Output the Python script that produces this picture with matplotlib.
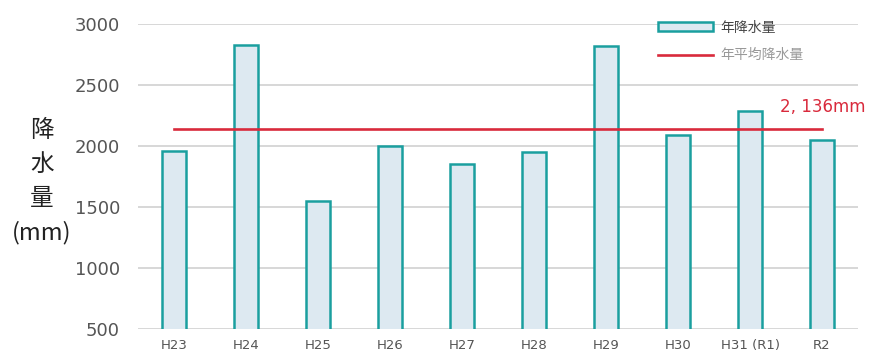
import matplotlib.pyplot as plt
from matplotlib.patches import Patch
from matplotlib.lines import Line2D

# --- data ---
years = ["H23", "H24", "H25", "H26", "H27", "H28", "H29", "H30", "H31 (R1)", "R2"]
rain = [1960, 2830, 1550, 2000, 1850, 1950, 2820, 2090, 2290, 2050]
mean_rain = 2136
mean_label = "2, 136mm"

plt.rcParams['font.family'] = ['Noto Sans CJK JP', 'DejaVu Sans']

fig = plt.figure(figsize=(8.72, 3.54), dpi=100)
ax = fig.add_axes([138 / 872, 1 - 329 / 354, 720 / 872, 305 / 354])

x = list(range(len(years)))
ax.bar(x, rain, width=0.33, bottom=0, color="#dde9f1", edgecolor="#1a9f9f",
       linewidth=1.8, zorder=3)
ax.plot([x[0], x[-1]], [mean_rain, mean_rain], color="#d92a3c", lw=1.9, zorder=4)
ax.text(x[-1] + 0.6, mean_rain + 110, mean_label, color="#d92a3c", fontsize=12,
        ha="right", va="bottom", family="DejaVu Sans")

ax.set_ylim(500, 3000)
ax.set_xlim(-0.5, 9.5)
ax.set_yticks([500, 1000, 1500, 2000, 2500, 3000])
ax.set_xticks(x)
ax.set_xticklabels(years)
ax.grid(axis="y", color="#d4d4d4", lw=1.3, zorder=0)
for s in ax.spines.values():
    s.set_visible(False)
ax.tick_params(axis="both", length=0, colors="#555555")
ax.tick_params(axis="y", pad=13, labelsize=13)
ax.tick_params(axis="x", pad=7, labelsize=9.5)
for lab in ax.get_yticklabels() + ax.get_xticklabels():
    lab.set_family("DejaVu Sans")

fig.text(42 / 872, 1 - 182 / 354, "降\n水\n量\n(mm)", ha="center", va="center",
         fontsize=17, linespacing=1.6, color="#222222")

handles = [Patch(facecolor="#dde9f1", edgecolor="#1a9f9f", linewidth=1.8),
           Line2D([0], [0], color="#d92a3c", lw=1.9)]
leg = ax.legend(handles, ["年降水量", "年平均降水量"], loc="upper left",
                bbox_to_anchor=(652 / 872, 1 - 15 / 354), bbox_transform=fig.transFigure,
                frameon=False, fontsize=10, handlelength=4.0, handleheight=0.6,
                handletextpad=0.5, labelspacing=1.0, borderaxespad=0)
leg.get_texts()[0].set_color("#444444")
leg.get_texts()[1].set_color("#999999")

fig.savefig("out.png", dpi=100)
